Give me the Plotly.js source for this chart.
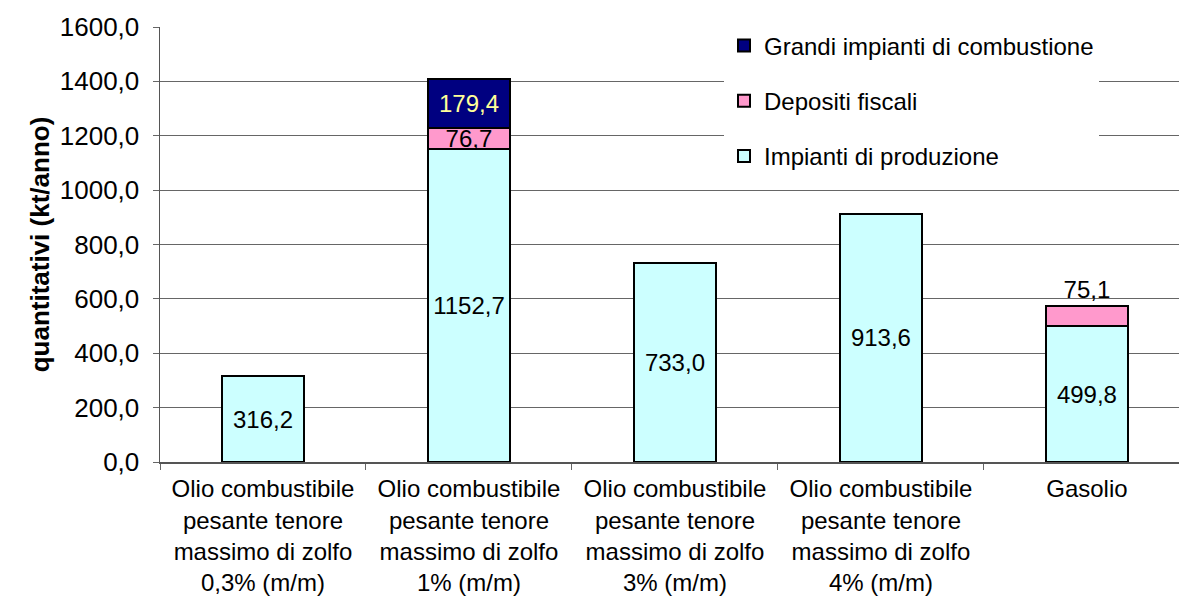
<!DOCTYPE html>
<html><head><meta charset="utf-8">
<script src="https://cdn.plot.ly/plotly-3.0.1.min.js"></script>
<style>body{margin:0;background:#fff}#c{width:1179px;height:599px}</style>
</head><body><div id="c"></div>
<script>
const categories = [
  "Olio combustibile<br>pesante tenore<br>massimo di zolfo<br>0,3% (m/m)",
  "Olio combustibile<br>pesante tenore<br>massimo di zolfo<br>1% (m/m)",
  "Olio combustibile<br>pesante tenore<br>massimo di zolfo<br>3% (m/m)",
  "Olio combustibile<br>pesante tenore<br>massimo di zolfo<br>4% (m/m)",
  "Gasolio"
];
const impianti = [316.2, 1152.7, 733.0, 913.6, 499.8];
const depositi = [null, 76.7, null, null, 75.1];
const grandi = [null, 179.4, null, null, null];
const yTicks = [0, 200, 400, 600, 800, 1000, 1200, 1400, 1600];

const fontFam = "Liberation Sans, Arial, sans-serif";
const line = {color: "#000", width: 2};
const common = {type: "bar", x: categories, texttemplate: "%{y:.1f}", constraintext: "none",
  cliponaxis: false, hoverinfo: "skip"};

const traces = [
  Object.assign({}, common, {name: "Impianti di produzione", y: impianti, legendgroup: "a", legendrank: 3,
    marker: {color: "#ccffff", line: line}, textposition: "inside", insidetextanchor: "middle",
    textfont: {color: "#000", size: 24, family: fontFam}}),
  Object.assign({}, common, {name: "Depositi fiscali", y: depositi, legendgroup: "b", legendrank: 2,
    marker: {color: "#ff99cc", line: line},
    textposition: ["inside", "inside", "inside", "inside", "outside"], insidetextanchor: "middle",
    textfont: {color: "#000", size: 24, family: fontFam}}),
  Object.assign({}, common, {name: "Grandi impianti di combustione", y: grandi, legendgroup: "c", legendrank: 1,
    marker: {color: "#000080", line: line}, textposition: "inside", insidetextanchor: "middle",
    textfont: {color: "#ffff99", size: 24, family: fontFam}})
];

const layout = {
  width: 1179, height: 599,
  margin: {l: 160, r: 0, t: 27, b: 137},
  paper_bgcolor: "#fff", plot_bgcolor: "#fff",
  barmode: "stack", bargap: 0.6,
  separators: ",.",
  font: {family: fontFam, size: 24, color: "#000"},
  showlegend: true,
  legend: {x: 0.5535, xanchor: "left", y: 1.008, yanchor: "top", bgcolor: "#fff",
    traceorder: "grouped", tracegroupgap: 21, font: {size: 24},
    itemwidth: 30},
  xaxis: {type: "category", range: [-0.5, 4.447], tickson: "boundaries", ticks: "outside",
    ticklen: 6, tickcolor: "#666", showline: true, linecolor: "#555", linewidth: 1.5,
    showgrid: false, tickfont: {size: 24}, fixedrange: true, ticklabelstandoff: 5},
  yaxis: {range: [0, 1600], tickvals: yTicks, tickformat: ".1f", ticks: "outside", ticklen: 6,
    tickcolor: "#666", showline: true, linecolor: "#555", linewidth: 1.5,
    gridcolor: "#666", gridwidth: 1.2, zeroline: false, tickfont: {size: 26},
    ticklabelstandoff: 8,
    title: {text: "<b>quantitativi (kt/anno)</b>", font: {size: 26}, standoff: 2}}
};

Plotly.newPlot("c", traces, layout, {staticPlot: true});
</script></body></html>
